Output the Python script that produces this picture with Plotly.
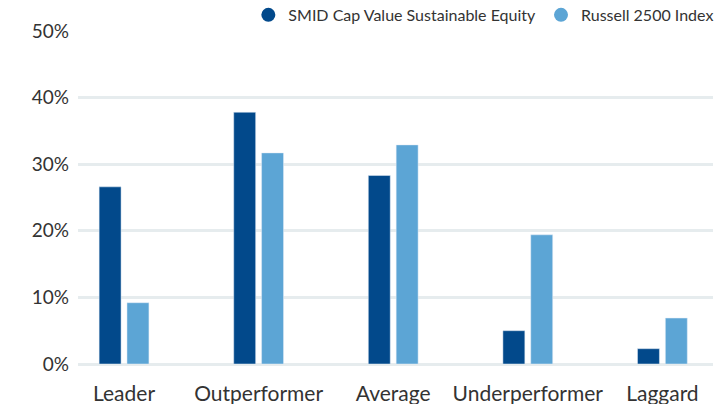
import plotly.graph_objects as go

categories = ["Leader", "Outperformer", "Average", "Underperformer", "Laggard"]
smid_values = [26.6, 37.8, 28.3, 5.0, 2.3]
russell_values = [9.2, 31.7, 32.9, 19.4, 6.9]
series_names = ["SMID Cap Value Sustainable Equity", "Russell 2500 Index"]
y_ticks = [0, 10, 20, 30, 40, 50]
y_tick_labels = ["0%", "10%", "20%", "30%", "40%", "50%"]

dark = "#02498b"
light = "#5ca5d5"
font = "Lato"

fig = go.Figure()
fig.add_trace(go.Bar(x=categories, y=smid_values, marker_color=dark, width=0.163,
                     offset=-0.185, showlegend=False, name=series_names[0]))
fig.add_trace(go.Bar(x=categories, y=russell_values, marker_color=light, width=0.163,
                     offset=0.022, showlegend=False, name=series_names[1]))
for nm, c in zip(series_names, [dark, light]):
    fig.add_trace(go.Scatter(x=[None], y=[None], mode="markers", name=nm,
                             marker=dict(color=c, size=14, symbol="circle")))

fig.update_layout(
    width=725, height=404,
    margin=dict(l=78, r=12, t=30, b=40, autoexpand=False),
    plot_bgcolor="white", paper_bgcolor="white",
    font=dict(family=font, color="#333333"),
    legend=dict(orientation="h", x=1.01, xanchor="right", y=1.045, yanchor="middle",
                font=dict(size=16, color="#333333"), itemwidth=30,
                traceorder="normal", bgcolor="rgba(0,0,0,0)"),
    xaxis=dict(type="category", range=[-0.342, 4.376], showgrid=False,
               tickfont=dict(size=21, color="#333333"), ticks="", showline=False,
               ticklabelstandoff=15),
    yaxis=dict(range=[0, 50.15], tickvals=y_ticks, ticktext=y_tick_labels,
               showgrid=True, gridcolor="#e6ecee", gridwidth=3,
               zeroline=True, zerolinecolor="#e6ecee", zerolinewidth=3,
               tickfont=dict(size=19, color="#333333"), ticklabelstandoff=8),
)
fig.write_html("out.html", config={"displayModeBar": False},
               post_script="document.body.style.margin='0';")
